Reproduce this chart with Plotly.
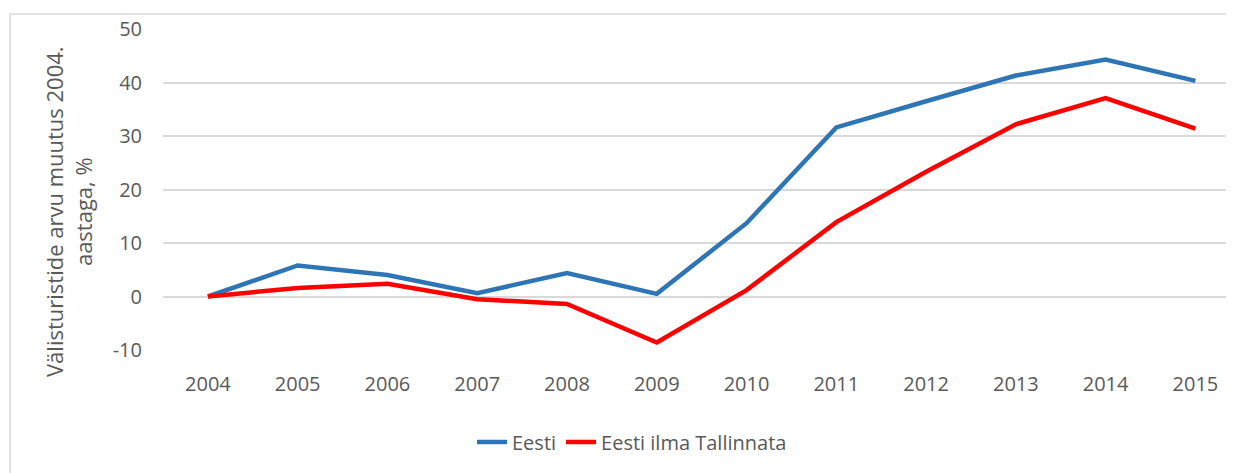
import plotly.graph_objects as go

years = ["2004", "2005", "2006", "2007", "2008", "2009", "2010", "2011", "2012", "2013", "2014", "2015"]
eesti = [0, 5.8, 4.0, 0.6, 4.4, 0.5, 13.7, 31.6, 36.5, 41.3, 44.3, 40.3]
eesti_ilma = [0, 1.6, 2.4, -0.5, -1.4, -8.6, 1.2, 13.9, 23.3, 32.2, 37.1, 31.4]
y_ticks = [-10, 0, 10, 20, 30, 40, 50]
y_ticktext = ["-10", "0", "10", "20", "30", "40", "50"]
y_title = "Välisturistide arvu muutus 2004.<br>aastaga, %"

font_family = "Open Sans, Liberation Sans, sans-serif"
grey = "#595959"

fig = go.Figure()
fig.add_trace(go.Scatter(x=years, y=eesti, mode="lines", name="Eesti",
                         line=dict(color="#2E75B6", width=4.5)))
fig.add_trace(go.Scatter(x=years, y=eesti_ilma, mode="lines", name="Eesti ilma Tallinnata",
                         line=dict(color="#FF0000", width=4.5)))

OFF = 8  # page body margin
W, H = 1234 - OFF, 473 - OFF
L, R = 163 - OFF, 0
T = 29 - OFF
B = H - T - 321
pw = W - L - R
ph = H - T - B

fig.update_layout(
    width=W, height=H,
    margin=dict(l=L, r=R, t=T, b=B),
    paper_bgcolor="white", plot_bgcolor="white",
    font=dict(family=font_family, color=grey, size=20),
    xaxis=dict(type="category", range=[-0.5, 11.43], showgrid=False, zeroline=False,
               showline=False, ticks="", ticklabelstandoff=20,
               tickfont=dict(size=20, color=grey)),
    yaxis=dict(range=[-10, 50], tickvals=y_ticks, ticktext=y_ticktext, showgrid=True,
               gridcolor="#d9d9d9", gridwidth=1.5, zeroline=False, showline=False, ticks="",
               ticklabelstandoff=20,
               tickfont=dict(size=20, color=grey)),
    legend=dict(orientation="h", x=(632 - 163) / pw, xanchor="center",
                y=(350 - 442) / ph, yanchor="middle",
                font=dict(size=20, color=grey), bgcolor="rgba(0,0,0,0)"),
    showlegend=True,
)

fig.add_annotation(text=y_title, xref="paper", yref="paper",
                   x=(69 - 163) / pw, y=(350 - 212) / ph,
                   xanchor="center", yanchor="middle", textangle=-90,
                   showarrow=False, font=dict(size=22, color=grey))

fig.add_shape(type="rect", xref="paper", yref="paper",
              x0=(10 - 163) / pw, x1=(1260 - 163) / pw,
              y0=(350 - 480) / ph, y1=(350 - 14) / ph,
              line=dict(color="#d9d9d9", width=1.5), fillcolor="rgba(0,0,0,0)", layer="below")

fig.write_html("out.html")
